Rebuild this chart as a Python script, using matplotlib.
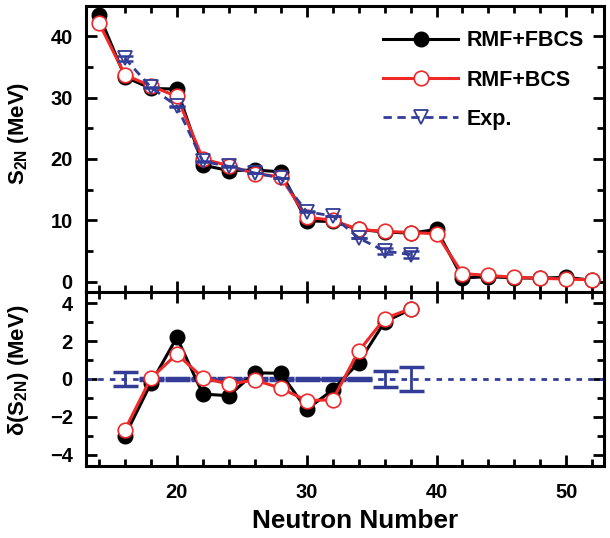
import matplotlib
matplotlib.use("Agg")
import matplotlib.pyplot as plt
from matplotlib.ticker import MultipleLocator
import numpy as np

plt.rcParams['font.family'] = ['Liberation Sans', 'DejaVu Sans']
plt.rcParams['font.weight'] = 'bold'
plt.rcParams['mathtext.fontset'] = 'custom'
plt.rcParams['mathtext.rm'] = 'Liberation Sans:bold'
plt.rcParams['mathtext.bf'] = 'Liberation Sans:bold'
plt.rcParams['mathtext.default'] = 'bf'

# ---- data ----
N_theory = [14, 16, 18, 20, 22, 24, 26, 28, 30, 32, 34, 36, 38, 40, 42, 44, 46, 48, 50, 52]
s2n_fbcs = [43.5, 33.4, 31.5, 31.4, 19.0, 18.1, 18.2, 17.9, 9.9, 9.8, 8.5, 8.1, 7.9, 8.5, 0.6, 0.8, 0.6, 0.55, 0.7, 0.2]
s2n_bcs = [42.2, 33.7, 31.9, 30.2, 20.0, 18.9, 17.6, 17.1, 10.5, 10.0, 8.5, 8.2, 8.0, 7.8, 1.3, 1.0, 0.7, 0.55, 0.4, 0.3]

N_exp = [16, 18, 20, 22, 24, 26, 28, 30, 32, 34, 36, 38]
s2n_exp = [36.4, 31.7, 28.6, 19.6, 18.8, 17.7, 16.9, 11.4, 10.7, 7.1, 5.0, 4.4]
s2n_exp_err = [0.35, 0.05, 0.05, 0.05, 0.05, 0.05, 0.05, 0.05, 0.05, 0.05, 0.43, 0.63]

N_diff = [16, 18, 20, 22, 24, 26, 28, 30, 32, 34, 36, 38]
d_fbcs = [-3.0, -0.23, 2.2, -0.8, -0.88, 0.33, 0.3, -1.6, -0.58, 0.86, 3.02, 3.68]
d_bcs = [-2.68, 0.04, 1.32, 0.07, -0.28, -0.05, -0.49, -1.14, -1.1, 1.47, 3.19, 3.72]

BLACK = '#000000'
RED = '#f02828'
BLUE = '#333c96'

fig = plt.figure(figsize=(6.10, 5.38), dpi=100)
W, H = 610, 538
left, right = 86 / W, 604 / W
top_top, split, bot_bot = 1 - 5.7 / H, 1 - 292 / H, 1 - 466 / H

ax1 = fig.add_axes([left, split, right - left, top_top - split])
ax2 = fig.add_axes([left, bot_bot, right - left, split - bot_bot], sharex=ax1)

TFS = 14.5

# ---- top panel ----
ax1.plot(N_theory, s2n_fbcs, '-o', color=BLACK, lw=2.2, ms=10.5,
         mfc=BLACK, mec=BLACK, label='RMF+FBCS', zorder=3)
ax1.plot(N_theory, s2n_bcs, '-o', color=RED, lw=2.2, ms=10.5,
         mfc='white', mec=RED, mew=1.2, label='RMF+BCS', zorder=4)
ax1.errorbar(N_exp, s2n_exp, yerr=s2n_exp_err, fmt='none', ecolor=BLUE,
             elinewidth=1.8, capsize=6, capthick=1.8, zorder=5)
ax1.plot(N_exp, s2n_exp, '--v', color=BLUE, lw=2.0, ms=9.5, dashes=(3, 2),
         mfc='none', mec=BLUE, mew=1.3, label='Exp.', zorder=6)

ax1.set_xlim(13, 52.9)
ax1.set_ylim(-1.7, 45)
ax1.yaxis.set_major_locator(MultipleLocator(10))
ax1.yaxis.set_minor_locator(MultipleLocator(5))
ax1.set_ylabel(r'S$_{\mathbf{2N}}$ (MeV)', fontsize=16, fontweight='bold')
ax1.yaxis.label.set_va('center')
ax1.yaxis.set_label_coords(-0.131, 0.555)
plt.setp(ax1.get_xticklabels(), visible=False)

leg = ax1.legend(loc='upper right', frameon=False, fontsize=15.5,
                 handlelength=3.5, handletextpad=0.4, labelspacing=0.85,
                 bbox_to_anchor=(0.962, 0.914), borderaxespad=0.0, borderpad=0.0)

# ---- bottom panel ----
ax2.axhline(0, color=BLUE, lw=2.0, ls=(0, (2, 2.2)), zorder=2)
ax2.errorbar(N_exp, [0] * len(N_exp), yerr=s2n_exp_err, fmt='none', ecolor=BLUE,
             elinewidth=2.0, capsize=9, capthick=2.5, zorder=3)
ax2.plot(N_diff, d_fbcs, '-o', color=BLACK, lw=2.2, ms=10.5,
         mfc=BLACK, mec=BLACK, zorder=4)
ax2.plot(N_diff, d_bcs, '-o', color=RED, lw=2.2, ms=10.5,
         mfc='white', mec=RED, mew=1.2, zorder=5)

ax2.set_ylim(-4.6, 4.6)
ax2.yaxis.set_major_locator(MultipleLocator(2))
ax2.yaxis.set_minor_locator(MultipleLocator(1))
ax2.xaxis.set_major_locator(MultipleLocator(10))
ax2.xaxis.set_minor_locator(MultipleLocator(2))
ax2.set_ylabel(r'$\delta$(S$_{\mathbf{2N}}$) (MeV)', fontsize=16, fontweight='bold')
ax2.yaxis.label.set_va('center')
ax2.yaxis.set_label_coords(-0.131, 0.55)
ax2.set_xlabel('Neutron Number', fontsize=18.8, fontweight='bold')
ax2.xaxis.label.set_va('center')
ax2.xaxis.set_label_coords((355.5 - 86) / 518, -(521 - 466) / 174)

for ax in (ax1, ax2):
    for sp in ax.spines.values():
        sp.set_linewidth(2.2)
    ax.tick_params(which='both', direction='in', top=True, right=True,
                   width=2.0, labelsize=TFS)
    ax.tick_params(which='major', length=8)
    ax.tick_params(which='minor', length=5)
    ax.tick_params(axis='y', which='major', pad=9.5)
    ax.tick_params(axis='x', which='major', pad=12.5)
    for lab in ax.get_xticklabels() + ax.get_yticklabels():
        lab.set_fontweight('bold')

fig.savefig('out.png', dpi=100)
